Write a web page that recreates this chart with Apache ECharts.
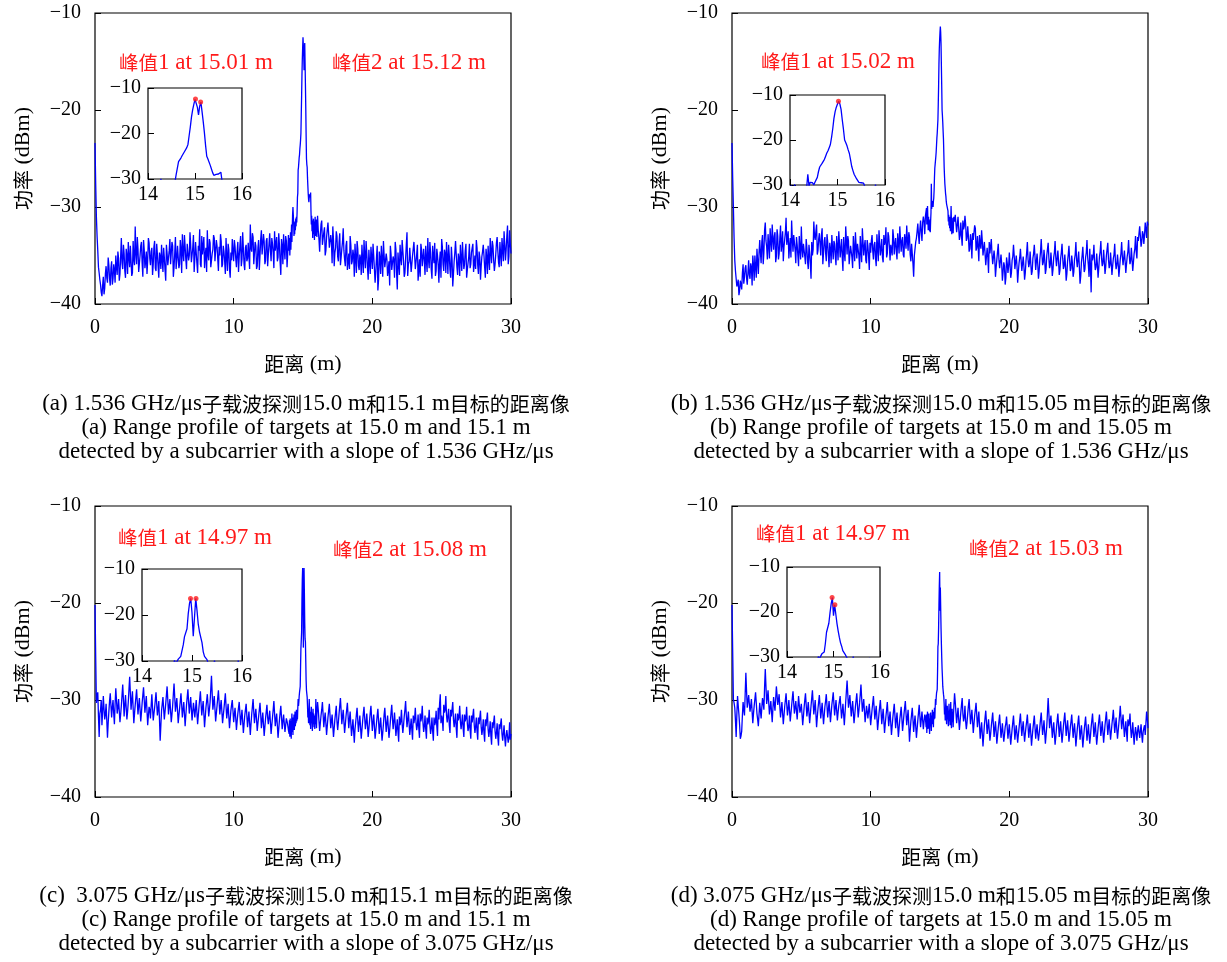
<!DOCTYPE html>
<html>
<head>
<meta charset="utf-8">
<script src="https://cdn.jsdelivr.net/npm/echarts@6/dist/echarts.min.js"></script>
<style>
html,body{margin:0;padding:0;background:#fff}
#chart{width:1227px;height:962px}
</style>
</head>
<body>
<div id="chart"></div>
<script>
// Range profiles (power in dBm vs distance in m).
// *_left : samples at 0.0, 0.1, ... 13.9 m      *_leftMid : samples at 0.05, 0.15, ... 13.95 m
// *_fine : samples every 0.025 m on 14–16 m
// *_rightMid : samples at 16.05 ... 29.95 m     *_right : samples at 16.1, ... 30.0 m

// ---------- (a) 1.536 GHz/μs, targets at 15.0 m and 15.1 m ----------
const a_left = [
 -23.4,-31.0,-34.5,-36.8,-38.0,-39.2,-37.2,-38.4,-36.1,-37.8,
 -36.0,-38.1,-35.6,-37.4,-36.5,-35.0,-37.0,-35.3,-36.9,-33.2,
 -36.4,-34.8,-37.3,-35.0,-33.6,-36.2,-34.1,-36.8,-35.4,-32.0,
 -35.9,-34.3,-36.5,-34.0,-35.8,-33.4,-36.3,-34.6,-35.5,-33.7,
 -36.0,-34.2,-35.9,-33.5,-36.6,-34.9,-37.3,-35.1,-33.9,-36.7,
 -35.2,-37.6,-34.8,-36.1,-33.3,-35.7,-34.0,-36.2,-33.1,-35.4,
 -33.8,-35.9,-34.3,-32.8,-35.6,-34.1,-36.4,-33.6,-35.0,-33.9,
 -35.8,-32.9,-35.3,-33.4,-36.8,-34.5,-35.9,-33.0,-34.7,-36.3,
 -34.2,-32.4,-35.5,-33.7,-36.0,-34.4,-33.2,-35.8,-34.0,-36.6,
 -35.0,-33.5,-35.9,-34.6,-36.9,-35.2,-33.8,-36.4,-34.7,-33.3,
 -35.6,-34.1,-36.2,-33.6,-35.1,-33.0,-35.4,-34.3,-36.5,-33.9,
 -35.3,-33.5,-31.8,-34.6,-33.1,-35.7,-34.0,-36.1,-33.4,-35.0,
 -32.4,-34.8,-33.6,-35.5,-33.2,-34.9,-32.7,-35.6,-33.8,-36.3,
 -34.5,-33.1,-35.2,-33.9,-37.0,-34.0,-32.8,-35.4,-33.5,-34.7
];
const a_leftMid = [
 -27.6,-33.0,-36.2,-37.5,-38.8,-38.1,-39.0,-36.9,-37.3,-35.2,
 -37.4,-36.3,-38.0,-35.9,-37.8,-36.2,-34.6,-37.6,-35.1,-35.8,
 -33.9,-36.6,-34.3,-36.9,-35.2,-34.0,-37.1,-33.5,-36.0,-34.8,
 -33.1,-36.7,-35.0,-33.6,-37.2,-34.4,-35.6,-36.9,-33.2,-35.3,
 -34.6,-37.0,-34.1,-36.3,-33.8,-36.1,-34.7,-36.4,-35.5,-34.2,
 -36.5,-33.9,-36.0,-34.5,-35.9,-33.6,-37.2,-34.8,-36.4,-34.0,
 -36.3,-33.4,-36.8,-34.7,-32.9,-35.4,-33.8,-35.5,-32.6,-35.7,
 -34.2,-36.7,-33.6,-35.8,-34.0,-32.3,-36.2,-34.9,-33.1,-35.0,
 -36.7,-34.9,-33.3,-36.2,-34.8,-32.9,-35.6,-33.4,-35.3,-34.1,
 -32.8,-36.2,-34.0,-35.6,-33.2,-36.6,-34.4,-37.3,-35.5,-34.6,
 -33.4,-35.3,-34.6,-36.7,-34.0,-36.1,-32.6,-35.9,-34.2,-35.6,
 -33.7,-36.4,-34.2,-32.7,-35.9,-33.6,-36.4,-34.2,-36.5,-33.3,
 -34.9,-32.8,-35.9,-33.5,-36.1,-33.8,-34.5,-33.2,-34.7,-32.5,
 -33.8,-35.6,-32.7,-35.7,-33.3,-35.9,-34.3,-33.0,-36.2,-32.9
];
const a_fine = [
 -34.5,-33.2,-35.0,-33.8,-32.6,-34.4,-33.0,-31.8,-33.6,-32.2,
 -30.8,-30.0,-30.1,-31.6,-33.0,-31.9,-32.8,-31.5,-32.4,-31.2,
 -32.0,-31.0,-31.6,-30.5,-29.0,-28.6,-26.2,-25.9,-25.4,-24.9,
 -24.6,-24.0,-23.6,-23.1,-22.4,-20.5,-18.6,-16.4,-14.8,-13.6,
 -12.5,-12.4,-14.2,-15.9,-14.0,-13.1,-15.2,-17.4,-19.8,-22.6,
 -25.0,-25.6,-25.9,-27.0,-27.8,-28.6,-29.2,-29.5,-29.0,-28.7,
 -28.9,-29.0,-28.5,-30.4,-31.8,-30.9,-32.5,-31.4,-33.2,-32.0,
 -31.2,-32.8,-31.5,-33.4,-32.1,-31.0,-33.0,-31.7,-32.6,-31.3,
 -33.1
];
const a_rightMid = [
 -30.9,-33.3,-32.9,-31.4,-34.0,-32.1,-34.5,-33.2,-32.8,-34.1,
 -33.6,-32.0,-36.1,-34.2,-33.0,-35.6,-32.7,-35.2,-33.6,-34.5,
 -36.1,-33.5,-35.7,-36.4,-33.9,-35.6,-35.0,-33.8,-36.8,-34.3,
 -36.5,-35.3,-33.9,-36.8,-35.0,-33.5,-36.2,-34.4,-36.9,-35.2,
 -33.8,-36.4,-36.7,-34.0,-37.5,-35.3,-34.0,-37.2,-35.0,-36.0,
 -35.4,-36.5,-38.1,-34.9,-36.7,-35.5,-33.6,-36.8,-34.7,-37.0,
 -35.2,-33.4,-35.6,-36.8,-33.9,-37.1,-35.6,-34.1,-36.9,-35.1,
 -35.0,-36.2,-33.9,-36.5,-37.2,-34.4,-36.3,-35.6,-34.0,-36.7,
 -35.4,-33.6,-36.5,-34.0,-35.8,-37.1,-34.3,-36.0,-35.5,-37.3,
 -34.1,-36.6,-34.8,-33.6,-36.9,-35.0,-37.3,-35.4,-36.9,-34.7,
 -34.9,-37.0,-35.3,-33.9,-36.6,-35.1,-35.9,-33.8,-36.5,-35.2,
 -36.3,-34.7,-33.8,-35.9,-36.4,-34.2,-36.9,-35.2,-36.1,-34.6,
 -35.0,-37.3,-35.2,-34.0,-36.5,-34.6,-33.5,-35.5,-35.9,-33.7,
 -34.5,-36.2,-34.8,-33.2,-35.6,-33.9,-34.4,-31.9,-35.1,-33.8
];
const a_right = [
 -32.4,-34.6,-31.8,-33.9,-32.6,-35.0,-33.1,-31.6,-34.2,-32.9,
 -35.8,-33.4,-34.7,-32.5,-35.1,-33.7,-36.0,-34.3,-32.2,-35.4,
 -34.0,-36.5,-34.8,-33.0,-35.9,-34.4,-37.2,-35.3,-33.5,-36.1,
 -34.9,-37.0,-35.5,-33.4,-36.3,-34.8,-37.5,-35.7,-34.1,-36.4,
 -35.0,-37.8,-35.2,-38.6,-34.6,-36.9,-35.4,-33.5,-36.2,-34.8,
 -37.1,-35.6,-34.0,-36.5,-35.1,-37.3,-34.4,-38.5,-35.8,-33.9,
 -36.0,-34.5,-37.2,-35.3,-32.6,-35.9,-34.2,-36.7,-35.0,-33.6,
 -36.4,-34.9,-37.6,-35.4,-33.8,-36.1,-34.3,-37.0,-35.5,-33.2,
 -36.3,-34.7,-37.4,-35.1,-33.7,-36.6,-35.0,-37.8,-34.6,-33.3,
 -35.9,-34.4,-36.8,-35.2,-33.9,-36.5,-34.1,-38.2,-35.6,-33.5,
 -36.2,-34.8,-37.1,-35.3,-33.6,-36.4,-34.5,-37.3,-35.8,-33.8,
 -35.9,-34.2,-36.7,-35.0,-33.4,-36.0,-34.6,-37.5,-35.1,-33.9,
 -36.2,-34.3,-36.9,-35.4,-33.2,-35.8,-34.0,-36.6,-34.9,-33.1,
 -35.7,-33.6,-36.1,-34.4,-32.5,-35.5,-33.0,-35.9,-32.4,-34.8
];
const a_peakPos = [15.01, 15.12];
const a_peakVal = [-12.4, -13.1];
const a_caption = [
 '(a) 1.536 GHz/\u03bcs子载波探测15.0 m和15.1 m目标的距离像',
 '(a) Range profile of targets at 15.0 m and 15.1 m',
 'detected by a subcarrier with a slope of 1.536 GHz/\u03bcs'
];

// ---------- (b) 1.536 GHz/μs, targets at 15.0 m and 15.05 m ----------
const b_left = [
 -23.4,-30.0,-35.5,-37.4,-38.0,-39.1,-37.6,-38.5,-35.9,-37.2,
 -36.0,-38.0,-35.5,-37.4,-36.2,-35.0,-37.6,-36.1,-34.3,-36.9,
 -33.4,-35.8,-32.9,-34.7,-31.6,-34.1,-32.8,-35.3,-33.5,-31.8,
 -34.4,-32.6,-35.1,-33.0,-34.8,-31.9,-33.7,-35.6,-34.0,-31.1,
 -33.8,-35.3,-33.2,-31.4,-34.6,-32.7,-35.8,-33.9,-36.1,-34.3,
 -32.0,-35.2,-33.6,-35.9,-34.2,-36.4,-34.7,-37.4,-35.0,-31.5,
 -33.4,-31.8,-34.5,-32.7,-35.0,-32.2,-34.8,-33.1,-35.6,-33.6,
 -36.2,-34.4,-32.9,-35.4,-33.8,-36.0,-34.1,-32.5,-35.2,-33.3,
 -36.6,-34.6,-32.0,-34.9,-33.5,-35.7,-33.9,-36.3,-34.3,-32.6,
 -35.3,-33.7,-36.4,-34.5,-32.2,-35.0,-33.4,-35.8,-34.0,-36.5,
 -34.7,-32.9,-35.4,-33.6,-36.1,-34.2,-32.4,-35.0,-33.3,-35.7,
 -33.9,-32.1,-34.8,-33.0,-35.5,-33.7,-32.3,-34.9,-33.2,-35.4,
 -33.6,-32.0,-34.6,-33.1,-35.2,-33.4,-31.9,-34.5,-33.0,-35.6,
 -34.0,-37.2,-35.1,-33.2,-31.7,-33.8,-31.4,-33.5,-31.0,-32.8
];
const b_leftMid = [
 -27.0,-33.2,-36.6,-38.2,-37.5,-38.6,-38.0,-36.8,-37.9,-36.3,
 -37.3,-36.8,-37.0,-35.8,-38.1,-36.0,-35.0,-37.3,-35.6,-34.8,
 -34.7,-33.6,-35.9,-32.4,-33.5,-35.4,-33.9,-32.2,-34.6,-33.3,
 -33.0,-35.7,-32.3,-35.4,-33.2,-34.6,-32.5,-34.1,-32.6,-33.9,
 -32.5,-34.1,-35.2,-33.3,-32.9,-34.4,-33.1,-35.0,-33.0,-35.4,
 -34.3,-33.8,-35.1,-33.3,-35.6,-33.9,-35.9,-33.6,-34.4,-33.0,
 -32.5,-34.9,-33.3,-33.8,-32.9,-35.9,-33.5,-34.7,-32.8,-35.0,
 -33.7,-35.8,-34.2,-33.5,-35.1,-33.0,-35.5,-33.7,-34.3,-35.2,
 -33.1,-35.6,-33.4,-33.0,-35.9,-34.0,-35.2,-33.0,-35.6,-34.0,
 -33.8,-35.0,-33.0,-35.7,-33.6,-34.0,-35.5,-33.4,-35.1,-33.7,
 -33.5,-34.5,-33.9,-35.3,-32.8,-35.6,-33.7,-34.3,-35.2,-32.9,
 -33.6,-35.2,-32.6,-34.1,-33.9,-35.0,-33.1,-33.8,-34.6,-32.7,
 -34.8,-33.3,-33.5,-34.9,-32.8,-34.3,-33.4,-32.6,-34.9,-33.8,
 -35.8,-35.0,-33.6,-32.5,-32.9,-32.3,-32.6,-31.6,-31.5,-30.9
];
const b_fine = [
 -31.0,-30.1,-31.8,-30.6,-29.9,-31.2,-32.4,-31.0,-32.0,-31.3,
 -32.5,-31.6,-32.6,-31.4,-30.6,-27.6,-30.2,-29.4,-29.8,-29.5,
 -30.0,-29.4,-29.1,-28.3,-27.0,-26.0,-25.6,-25.2,-24.8,-24.3,
 -23.6,-22.9,-22.4,-21.7,-21.0,-19.4,-17.5,-15.2,-13.7,-12.7,
 -12.0,-11.4,-12.0,-13.2,-15.5,-17.6,-20.0,-20.6,-21.3,-22.2,
 -23.0,-24.4,-25.9,-26.8,-27.6,-28.1,-28.6,-28.9,-29.4,-29.7,
 -29.5,-29.9,-29.6,-30.4,-31.5,-30.8,-31.9,-31.2,-32.2,-31.0,
 -32.5,-31.4,-29.9,-31.6,-32.8,-31.5,-32.3,-31.1,-32.7,-31.6,
 -31.0
];
const b_rightMid = [
 -31.5,-31.7,-32.4,-32.2,-32.9,-33.0,-31.4,-32.0,-31.8,-33.2,
 -33.0,-34.3,-33.6,-32.7,-33.5,-32.2,-34.2,-34.1,-32.9,-34.3,
 -33.5,-34.9,-34.8,-35.1,-35.2,-33.6,-35.0,-34.9,-36.0,-35.4,
 -36.2,-34.6,-35.4,-36.3,-35.9,-36.7,-36.1,-37.3,-35.8,-36.1,
 -35.9,-36.8,-35.1,-35.0,-36.4,-36.0,-36.7,-35.2,-35.5,-36.6,
 -36.1,-36.8,-34.7,-35.4,-35.8,-35.9,-36.6,-34.8,-35.1,-36.3,
 -35.9,-36.6,-34.6,-34.9,-35.7,-35.4,-36.4,-34.8,-35.2,-36.0,
 -35.8,-36.4,-34.7,-35.2,-35.9,-35.6,-36.5,-34.7,-35.3,-36.1,
 -36.0,-36.9,-34.9,-35.5,-36.3,-35.8,-36.7,-34.9,-35.4,-36.3,
 -36.2,-37.1,-35.0,-35.6,-36.4,-34.7,-35.2,-37.2,-36.1,-34.9,
 -35.1,-35.7,-36.2,-35.9,-36.3,-34.6,-35.3,-35.8,-35.6,-36.2,
 -34.9,-35.4,-36.0,-35.8,-36.1,-34.9,-35.6,-36.0,-35.8,-36.3,
 -34.8,-35.1,-35.8,-35.6,-35.9,-34.6,-35.0,-35.5,-35.4,-35.7,
 -34.3,-34.6,-33.1,-33.4,-33.0,-33.6,-32.8,-32.9,-32.3,-31.5
];
const b_right = [
 -30.8,-32.6,-31.0,-33.4,-31.6,-34.0,-32.3,-30.9,-33.5,-32.0,
 -34.6,-32.8,-35.3,-33.4,-31.9,-34.5,-33.0,-35.6,-33.8,-32.4,
 -35.0,-33.6,-36.0,-34.2,-36.8,-34.8,-33.3,-35.9,-34.5,-37.2,
 -35.4,-33.8,-36.3,-34.9,-37.6,-35.7,-38.0,-35.2,-36.8,-34.7,
 -37.3,-35.5,-33.9,-36.4,-35.0,-37.8,-35.8,-34.3,-36.6,-35.1,
 -37.5,-35.6,-33.6,-36.2,-34.6,-37.0,-35.3,-33.9,-36.5,-34.8,
 -37.4,-35.4,-33.3,-36.0,-34.4,-36.9,-35.0,-33.7,-36.3,-34.7,
 -37.1,-35.2,-33.5,-36.1,-34.5,-37.0,-35.3,-33.8,-36.4,-34.9,
 -37.6,-35.6,-34.0,-36.6,-35.0,-37.2,-35.4,-33.6,-36.2,-34.6,
 -37.9,-35.7,-34.1,-36.7,-35.2,-33.4,-36.0,-34.3,-38.8,-35.5,
 -33.9,-36.5,-34.8,-37.3,-35.1,-33.5,-36.1,-34.4,-36.9,-35.0,
 -33.7,-36.3,-34.7,-37.0,-35.3,-33.8,-36.4,-34.9,-37.2,-35.4,
 -33.6,-36.0,-34.5,-36.8,-35.1,-33.4,-35.9,-34.2,-36.6,-34.8,
 -33.0,-35.3,-33.5,-32.0,-34.1,-32.5,-33.8,-31.6,-33.2,-31.9
];
const b_peakPos = [15.02];
const b_peakVal = [-11.4];
const b_caption = [
 '(b) 1.536 GHz/\u03bcs子载波探测15.0 m和15.05 m目标的距离像',
 '(b) Range profile of targets at 15.0 m and 15.05 m',
 'detected by a subcarrier with a slope of 1.536 GHz/\u03bcs'
];

// ---------- (c) 3.075 GHz/μs, targets at 15.0 m and 15.1 m ----------
const c_left = [
 -20.2,-30.3,-29.2,-33.8,-31.0,-32.6,-29.6,-32.0,-30.4,-33.9,
 -31.2,-29.3,-31.8,-30.0,-32.5,-28.8,-31.4,-29.9,-32.3,-30.6,
 -28.4,-31.7,-29.5,-32.0,-30.2,-27.6,-31.0,-29.1,-32.4,-30.5,
 -28.9,-31.5,-29.8,-32.2,-30.3,-28.7,-31.3,-29.6,-32.6,-30.7,
 -31.9,-29.4,-32.1,-30.8,-29.2,-31.6,-30.1,-34.2,-31.1,-29.7,
 -32.0,-30.4,-28.6,-31.5,-29.9,-32.3,-30.6,-28.3,-31.2,-29.8,
 -32.4,-30.9,-29.3,-31.8,-30.2,-32.7,-30.5,-28.9,-31.4,-29.7,
 -32.1,-30.3,-31.8,-30.0,-32.5,-30.7,-29.1,-31.6,-30.1,-32.8,
 -30.8,-29.4,-31.7,-30.2,-27.5,-31.0,-29.6,-32.2,-30.6,-29.0,
 -31.5,-30.0,-32.4,-30.9,-29.3,-31.9,-30.4,-32.9,-31.1,-30.0,
 -32.3,-30.8,-33.1,-31.4,-30.2,-32.6,-31.0,-33.4,-31.6,-30.4,
 -32.8,-31.2,-33.6,-31.5,-29.9,-32.4,-30.9,-33.2,-31.7,-30.3,
 -32.9,-31.3,-33.7,-31.9,-30.5,-32.5,-31.1,-33.5,-31.8,-30.1,
 -32.7,-31.4,-33.9,-32.1,-30.6,-33.0,-31.5,-33.3,-31.9,-32.6
];
const c_leftMid = [
 -25.5,-29.6,-31.7,-31.4,-30.0,-31.2,-30.9,-31.5,-32.1,-32.4,
 -30.1,-30.6,-30.7,-31.4,-30.4,-30.0,-30.8,-31.1,-31.5,-29.5,
 -30.0,-30.5,-30.8,-31.2,-28.9,-29.3,-30.0,-30.8,-31.4,-29.7,
 -30.2,-30.6,-31.0,-31.3,-29.5,-30.0,-30.4,-31.1,-31.6,-31.0,
 -30.6,-30.8,-31.4,-30.0,-30.4,-30.9,-32.0,-32.6,-30.4,-30.9,
 -31.2,-29.5,-30.0,-30.7,-31.1,-31.5,-29.4,-29.7,-30.5,-31.0,
 -31.6,-30.1,-30.5,-31.0,-31.4,-31.6,-29.7,-30.2,-30.6,-30.9,
 -31.2,-31.0,-30.9,-31.3,-31.6,-29.9,-30.4,-30.8,-31.4,-31.8,
 -30.1,-30.5,-31.0,-28.9,-29.3,-30.3,-30.9,-31.4,-29.8,-30.2,
 -30.7,-31.2,-31.6,-30.1,-30.6,-31.2,-31.7,-32.0,-30.5,-31.1,
 -31.5,-31.9,-32.2,-30.8,-31.4,-31.8,-32.2,-32.5,-31.0,-31.6,
 -32.0,-32.4,-32.5,-30.7,-31.2,-31.6,-32.0,-32.4,-31.0,-31.5,
 -32.1,-32.5,-32.8,-31.2,-31.8,-31.8,-32.3,-32.6,-31.0,-31.4,
 -32.0,-32.6,-33.0,-31.3,-31.8,-32.2,-32.4,-32.6,-32.2,-33.1
];
const c_fine = [
 -33.5,-32.1,-33.8,-31.9,-33.0,-32.2,-34.0,-32.6,-31.4,-33.3,
 -32.0,-33.6,-31.8,-32.9,-31.5,-33.1,-32.3,-31.2,-32.7,-31.6,
 -32.4,-31.0,-32.2,-31.3,-32.0,-30.8,-29.9,-30.6,-30.2,-29.6,
 -29.2,-29.0,-28.6,-26.5,-24.7,-24.5,-23.0,-19.7,-17.5,-16.4,
 -19.5,-24.6,-20.5,-16.4,-19.0,-22.0,-23.7,-24.0,-26.0,-28.0,
 -29.0,-29.1,-29.7,-30.6,-31.8,-30.9,-32.4,-31.1,-29.9,-31.5,
 -32.6,-31.2,-33.0,-31.9,-30.7,-32.4,-31.3,-33.2,-32.0,-30.9,
 -32.5,-31.4,-32.8,-31.6,-33.0,-31.8,-32.5,-29.9,-31.7,-32.9,
 -31.5
];
const c_rightMid = [
 -30.2,-32.1,-32.4,-31.0,-31.5,-32.0,-32.4,-32.7,-31.1,-31.6,
 -32.2,-32.7,-32.9,-31.3,-32.2,-32.3,-30.6,-31.1,-31.7,-32.2,
 -32.6,-31.0,-31.6,-32.0,-32.5,-32.9,-33.2,-33.0,-31.5,-32.1,
 -32.4,-32.8,-33.1,-31.4,-31.9,-32.3,-32.6,-33.0,-31.3,-31.9,
 -32.3,-32.7,-33.2,-31.6,-32.2,-32.6,-33.0,-33.4,-31.5,-32.1,
 -32.4,-32.8,-33.1,-31.3,-31.9,-32.2,-32.5,-32.9,-33.3,-31.7,
 -32.2,-32.5,-32.6,-31.0,-31.6,-32.0,-32.4,-32.8,-33.1,-31.6,
 -31.9,-32.3,-32.6,-32.9,-31.4,-31.8,-32.3,-32.7,-33.0,-31.8,
 -32.2,-32.6,-32.9,-33.2,-31.8,-32.3,-32.7,-30.8,-30.4,-32.4,
 -32.0,-30.5,-31.0,-31.6,-32.1,-32.6,-31.0,-31.5,-32.0,-32.7,
 -32.9,-31.4,-31.8,-32.2,-32.3,-32.9,-31.5,-31.9,-32.4,-32.8,
 -33.1,-31.6,-32.1,-32.6,-32.7,-33.2,-31.8,-32.3,-32.8,-33.0,
 -33.4,-32.0,-32.5,-33.0,-33.1,-33.7,-32.3,-32.8,-33.2,-33.4,
 -33.8,-32.5,-33.1,-33.5,-33.4,-33.9,-33.7,-33.3,-33.9,-34.1
];
const c_right = [
 -31.0,-33.2,-31.6,-30.2,-32.8,-31.3,-33.6,-31.8,-30.4,-32.9,
 -31.5,-33.8,-32.0,-30.6,-33.1,-31.4,-29.8,-32.5,-31.0,-33.4,
 -31.7,-30.3,-32.9,-31.2,-33.7,-32.0,-34.4,-32.3,-30.8,-33.3,
 -31.6,-34.0,-32.2,-30.7,-33.0,-31.4,-33.8,-32.1,-30.6,-33.2,
 -31.5,-34.0,-32.4,-30.9,-33.5,-31.8,-34.2,-32.5,-30.8,-33.3,
 -31.6,-33.9,-32.2,-30.5,-33.0,-31.3,-33.7,-32.0,-34.3,-32.6,
 -31.0,-33.4,-31.7,-30.1,-32.8,-31.2,-33.6,-31.9,-34.1,-32.4,
 -30.8,-33.1,-31.5,-33.9,-32.2,-30.6,-33.3,-31.6,-34.0,-32.5,
 -31.0,-33.5,-31.8,-34.2,-32.6,-31.1,-33.7,-32.0,-29.4,-31.6,
 -33.2,-31.3,-29.6,-32.3,-30.9,-33.4,-31.7,-30.2,-32.8,-31.4,
 -33.9,-32.1,-30.6,-33.0,-31.5,-33.8,-32.2,-30.7,-33.2,-31.6,
 -34.0,-32.3,-30.9,-33.4,-31.8,-34.1,-32.5,-31.1,-33.6,-32.0,
 -34.3,-32.7,-31.3,-33.8,-32.2,-34.6,-32.9,-31.6,-34.0,-32.4,
 -34.7,-33.0,-31.9,-34.2,-32.6,-34.8,-33.1,-34.4,-32.3,-33.5
];
const c_peakPos = [14.97, 15.08];
const c_peakVal = [-16.4, -16.4];
const c_caption = [
 '(c)  3.075 GHz/\u03bcs子载波探测15.0 m和15.1 m目标的距离像',
 '(c) Range profile of targets at 15.0 m and 15.1 m',
 'detected by a subcarrier with a slope of 3.075 GHz/\u03bcs'
];

// ---------- (d) 3.075 GHz/μs, targets at 15.0 m and 15.05 m ----------
const d_left = [
 -20.2,-29.9,-30.8,-33.8,-29.6,-31.5,-34.0,-33.2,-30.2,-31.6,
 -27.2,-30.8,-29.5,-31.2,-29.9,-32.4,-30.6,-29.2,-31.4,-32.7,
 -30.3,-31.9,-29.8,-31.0,-26.8,-30.4,-29.0,-31.5,-30.1,-32.3,
 -29.7,-31.1,-28.6,-30.5,-29.4,-31.8,-30.2,-32.5,-30.7,-29.3,
 -31.6,-30.0,-32.2,-30.6,-29.1,-31.4,-30.1,-32.0,-29.6,-31.3,
 -30.4,-32.6,-30.8,-29.3,-31.7,-30.2,-32.4,-30.6,-29.0,-31.5,
 -30.0,-32.8,-30.9,-29.5,-31.9,-30.3,-32.5,-30.7,-29.4,-31.8,
 -30.1,-32.3,-30.5,-29.2,-31.6,-30.0,-32.1,-30.6,-29.6,-31.9,
 -30.4,-32.6,-30.2,-28.0,-30.8,-29.5,-31.7,-30.1,-32.4,-30.7,
 -29.3,-31.8,-30.3,-28.4,-31.2,-29.9,-32.3,-30.6,-31.9,-30.4,
 -32.6,-31.0,-29.6,-32.0,-30.6,-33.1,-31.4,-30.0,-32.5,-30.9,
 -33.4,-31.7,-30.2,-32.7,-31.2,-33.6,-31.8,-30.4,-32.9,-31.3,
 -33.8,-32.0,-30.7,-33.2,-31.5,-30.1,-32.6,-31.0,-34.3,-32.2,
 -30.8,-33.3,-31.6,-33.9,-32.1,-30.5,-32.8,-31.2,-33.0,-31.5
];
const d_leftMid = [
 -25.0,-30.3,-32.1,-31.5,-30.6,-32.6,-33.7,-31.6,-31.0,-29.4,
 -29.1,-30.1,-30.4,-30.6,-31.2,-31.4,-29.9,-30.3,-32.0,-31.5,
 -31.1,-30.8,-30.3,-28.7,-28.6,-29.8,-30.3,-30.8,-31.2,-30.9,
 -30.4,-29.9,-29.5,-30.0,-30.7,-31.0,-31.4,-31.6,-30.0,-30.5,
 -30.9,-31.1,-31.4,-29.8,-30.3,-30.8,-31.1,-30.8,-30.5,-30.9,
 -31.5,-31.7,-30.0,-30.5,-31.0,-31.3,-31.5,-29.8,-30.3,-30.8,
 -31.4,-31.8,-30.2,-30.7,-31.1,-31.4,-31.6,-30.1,-30.6,-31.0,
 -31.2,-31.4,-29.9,-30.4,-30.8,-31.1,-31.3,-30.1,-30.8,-31.2,
 -31.5,-31.4,-29.1,-29.4,-30.2,-30.6,-30.9,-31.3,-31.6,-30.0,
 -30.6,-31.1,-29.4,-29.8,-30.6,-31.1,-31.5,-31.2,-31.1,-31.5,
 -31.8,-30.3,-30.8,-31.3,-31.8,-32.3,-30.7,-31.2,-31.7,-32.1,
 -32.5,-31.0,-31.5,-31.9,-32.4,-32.7,-31.1,-31.6,-32.1,-32.6,
 -32.9,-31.4,-31.9,-32.4,-30.8,-31.4,-31.8,-32.6,-33.2,-31.5,
 -32.0,-32.4,-32.7,-33.0,-31.3,-31.7,-32.0,-32.1,-32.2,-31.9
];
const d_fine = [
 -32.8,-31.5,-33.4,-32.0,-31.2,-33.0,-31.8,-32.9,-31.4,-32.6,
 -33.5,-31.9,-32.7,-31.3,-32.4,-33.2,-31.6,-32.5,-31.0,-32.2,
 -31.5,-32.8,-31.2,-32.0,-30.8,-31.9,-30.9,-29.9,-30.5,-29.8,
 -29.3,-29.1,-28.9,-27.0,-24.5,-24.2,-22.5,-20.2,-18.2,-16.8,
 -20.8,-18.4,-20.5,-22.6,-24.2,-25.6,-26.8,-27.6,-28.6,-29.0,
 -29.4,-29.7,-30.4,-31.5,-30.8,-32.1,-31.0,-29.9,-31.4,-32.5,
 -31.3,-30.6,-32.0,-31.1,-32.7,-31.5,-30.4,-32.2,-31.0,-32.6,
 -31.4,-30.2,-31.8,-32.9,-31.6,-30.9,-32.3,-31.2,-32.8,-31.5,
 -30.7
];
const d_rightMid = [
 -29.3,-31.3,-31.6,-32.0,-32.2,-30.5,-31.4,-31.8,-32.2,-32.3,
 -30.6,-31.2,-31.8,-32.2,-32.5,-31.0,-31.5,-32.0,-32.6,-33.1,
 -33.5,-33.7,-31.8,-32.3,-32.8,-33.1,-33.5,-32.0,-32.5,-33.0,
 -33.3,-33.7,-32.2,-32.7,-33.2,-33.5,-33.6,-32.4,-32.9,-33.2,
 -33.6,-33.8,-32.3,-32.8,-33.3,-33.5,-33.6,-32.1,-32.6,-32.9,
 -33.3,-33.5,-32.2,-32.7,-33.1,-33.5,-33.8,-32.3,-32.8,-33.2,
 -33.5,-33.5,-32.0,-32.5,-32.9,-33.3,-33.6,-31.3,-31.3,-32.2,
 -32.7,-33.1,-33.5,-33.8,-32.1,-32.6,-33.0,-33.4,-33.6,-32.0,
 -32.5,-32.9,-33.2,-33.6,-32.2,-32.7,-33.1,-33.5,-33.9,-32.3,
 -32.8,-33.3,-33.7,-34.0,-32.4,-32.9,-33.4,-33.6,-33.7,-32.1,
 -32.6,-33.1,-33.5,-33.8,-32.2,-32.6,-33.0,-33.3,-33.5,-31.9,
 -32.4,-32.8,-33.1,-33.3,-31.8,-32.2,-32.6,-33.0,-33.2,-31.6,
 -31.8,-32.3,-32.7,-33.0,-33.3,-32.0,-32.4,-32.9,-33.3,-33.5,
 -33.5,-33.4,-33.2,-33.3,-33.2,-33.6,-33.3,-32.6,-32.4,-31.9
];
const d_right = [
 -30.2,-32.4,-30.8,-33.1,-31.3,-29.8,-32.2,-30.6,-33.0,-31.4,
 -29.9,-32.5,-31.0,-33.4,-31.6,-30.3,-32.8,-31.2,-34.0,-32.3,
 -34.8,-32.6,-31.1,-33.5,-32.0,-34.2,-32.7,-31.3,-33.8,-32.2,
 -34.5,-32.9,-31.5,-33.9,-32.4,-34.3,-32.8,-31.7,-34.0,-32.5,
 -34.6,-33.0,-31.6,-34.1,-32.6,-34.4,-32.9,-31.4,-33.7,-32.2,
 -34.3,-32.8,-31.5,-33.9,-32.4,-34.7,-33.0,-31.6,-34.0,-32.5,
 -34.2,-32.8,-31.3,-33.6,-32.1,-34.5,-32.7,-29.8,-32.9,-31.6,
 -33.9,-32.3,-34.6,-32.9,-31.4,-33.8,-32.2,-34.4,-32.7,-31.3,
 -33.7,-32.1,-34.3,-32.8,-31.5,-33.9,-32.4,-34.8,-33.0,-31.6,
 -34.1,-32.6,-34.9,-33.1,-31.7,-34.2,-32.5,-34.5,-32.8,-31.4,
 -33.8,-32.3,-34.6,-32.9,-31.5,-33.7,-32.2,-34.4,-32.6,-31.2,
 -33.6,-32.0,-34.1,-32.5,-31.0,-33.4,-31.8,-34.0,-32.4,-30.6,
 -33.0,-31.5,-33.8,-32.2,-34.3,-32.7,-31.4,-33.9,-32.3,-34.6,
 -32.8,-34.2,-32.6,-33.9,-32.5,-34.4,-32.9,-33.6,-31.2,-32.9
];
const d_peakPos = [14.97, 15.03];
const d_peakVal = [-16.8, -18.4];
const d_caption = [
 '(d) 3.075 GHz/\u03bcs子载波探测15.0 m和15.05 m目标的距离像',
 '(d) Range profile of targets at 15.0 m and 15.05 m',
 'detected by a subcarrier with a slope of 3.075 GHz/\u03bcs'
];

// Axis ranges and tick spacing
const mainXTicks = {min: 0, max: 30, interval: 10};
const mainYTicks = {min: -40, max: -10, interval: 10};
const zoomXTicks = {min: 14, max: 16, interval: 1};
const zoomYTicks = {min: -30, max: -10, interval: 10};

// ---------- sample positions ----------
const COARSE = 0.1, HALF = 0.05, FINE = 0.025, FINE_START = 14, RIGHT_START = 16.1;
function fineSeries(fine) {
  return fine.map((v, i) => [+(FINE_START + i * FINE).toFixed(3), v]);
}
function fullSeries(left, leftMid, fine, rightMid, right) {
  const out = [];
  left.forEach((v, i) => {
    out.push([+(i * COARSE).toFixed(2), v]);
    out.push([+(i * COARSE + HALF).toFixed(2), leftMid[i]]);
  });
  fineSeries(fine).forEach(p => out.push(p));
  right.forEach((v, i) => {
    out.push([+(RIGHT_START + i * COARSE - HALF).toFixed(2), rightMid[i]]);
    out.push([+(RIGHT_START + i * COARSE).toFixed(2), v]);
  });
  return out;
}

// ---------- layout ----------
const LATIN = '"Liberation Serif", "Noto Sans CJK SC", serif';
const CJK = '"Noto Sans CJK SC", sans-serif';
const BLUE = '#0000ff', RED = '#ff1a1a';
const panels = [
  {grid: {left: 95, top: 13}, inset: {left: 148, top: 88, width: 94, height: 91},
   left: a_left, leftMid: a_leftMid, fine: a_fine, rightMid: a_rightMid, right: a_right,
   pos: a_peakPos, val: a_peakVal,
   notes: [[119, 63], [332, 63]], caption: a_caption, capX: 306, capY: 404},
  {grid: {left: 732, top: 13}, inset: {left: 790, top: 95, width: 95, height: 90},
   left: b_left, leftMid: b_leftMid, fine: b_fine, rightMid: b_rightMid, right: b_right,
   pos: b_peakPos, val: b_peakVal,
   notes: [[761, 62]], caption: b_caption, capX: 941, capY: 404},
  {grid: {left: 95, top: 506}, inset: {left: 142, top: 569, width: 100, height: 92},
   left: c_left, leftMid: c_leftMid, fine: c_fine, rightMid: c_rightMid, right: c_right,
   pos: c_peakPos, val: c_peakVal,
   notes: [[118, 538], [333, 550]], caption: c_caption, capX: 306, capY: 896},
  {grid: {left: 732, top: 506}, inset: {left: 787, top: 567, width: 93, height: 90},
   left: d_left, leftMid: d_leftMid, fine: d_fine, rightMid: d_rightMid, right: d_right,
   pos: d_peakPos, val: d_peakVal,
   notes: [[756, 534], [969, 549]], caption: d_caption, capX: 941, capY: 896}
];

// Han characters get their own run so they can be sized apart from the Latin text
const richCJK = s => s.replace(/[\u4e00-\u9fff]+/g, m => '{c|' + m + '}');
const minus = v => String(v).replace('-', '\u2212');
const tickLabel = (margin) => ({
  color: '#000', fontFamily: LATIN, fontSize: 20, margin: margin,
  showMinLabel: true, showMaxLabel: true, formatter: minus
});
const tick = {inside: true, length: 6, lineStyle: {color: '#000', width: 1}};
const nameStyle = {color: '#000', fontFamily: LATIN, fontSize: 22,
  rich: {c: {color: '#000', fontFamily: CJK, fontSize: 20}}};

const grids = [], xAxes = [], yAxes = [], series = [], graphics = [];
panels.forEach((p, k) => {
  const gi = 2 * k, ii = 2 * k + 1;
  grids.push({left: p.grid.left, top: p.grid.top, width: 416, height: 291,
    show: true, borderColor: '#000', borderWidth: 1.2, backgroundColor: 'transparent'});
  grids.push({left: p.inset.left, top: p.inset.top, width: p.inset.width, height: p.inset.height,
    show: true, borderColor: '#000', borderWidth: 1.2, backgroundColor: '#fff', z: 3});

  xAxes.push(Object.assign({gridIndex: gi, type: 'value', axisLine: {show: false},
    axisTick: tick, splitLine: {show: false}, axisLabel: tickLabel(14),
    name: richCJK('距离 (m)'), nameLocation: 'middle', nameGap: 49,
    nameTextStyle: nameStyle}, mainXTicks));
  yAxes.push(Object.assign({gridIndex: gi, type: 'value', axisLine: {show: false},
    axisTick: tick, splitLine: {show: false}, axisLabel: tickLabel(14),
    name: richCJK('功率 (dBm)'), nameLocation: 'middle', nameGap: 61,
    nameTextStyle: nameStyle}, mainYTicks));
  xAxes.push(Object.assign({gridIndex: ii, type: 'value', axisLine: {show: false},
    axisTick: tick, splitLine: {show: false}, axisLabel: tickLabel(6), z: 3}, zoomXTicks));
  yAxes.push(Object.assign({gridIndex: ii, type: 'value', axisLine: {show: false},
    axisTick: tick, splitLine: {show: false}, axisLabel: tickLabel(7), z: 3}, zoomYTicks));

  const lineStyle = {color: BLUE, width: 1.3};
  series.push({type: 'line', xAxisIndex: gi, yAxisIndex: gi,
    data: fullSeries(p.left, p.leftMid, p.fine, p.rightMid, p.right),
    showSymbol: false, symbol: 'none',
    lineStyle: lineStyle, clip: true, silent: true, animation: false});
  series.push({type: 'line', xAxisIndex: ii, yAxisIndex: ii, z: 4,
    data: fineSeries(p.fine), showSymbol: false, symbol: 'none',
    lineStyle: lineStyle, clip: true, silent: true, animation: false});
  series.push({type: 'scatter', xAxisIndex: ii, yAxisIndex: ii, z: 5,
    data: p.pos.map((x, j) => [x, p.val[j]]), symbolSize: 5,
    itemStyle: {color: RED}, silent: true, animation: false});

  p.pos.forEach((x, j) => {
    graphics.push({type: 'text', x: p.notes[j][0], y: p.notes[j][1], z: 10,
      style: {text: richCJK('峰值') + (j + 1) + ' at ' + x.toFixed(2) + ' m', fill: RED,
        font: '23px ' + LATIN, textAlign: 'left', textVerticalAlign: 'middle',
        align: 'left', verticalAlign: 'middle',
        rich: {c: {fill: RED, font: '19.5px ' + CJK}}}});
  });
  p.caption.forEach((line, j) => {
    graphics.push({type: 'text', x: p.capX, y: p.capY + 24 * j, z: 10,
      style: {text: richCJK(line), fill: '#000', font: '23px ' + LATIN,
        textAlign: 'center', textVerticalAlign: 'middle',
        align: 'center', verticalAlign: 'middle',
        rich: {c: {fill: '#000', font: '20px ' + CJK}}}});
  });
});

const chart = echarts.init(document.getElementById('chart'), null, {renderer: 'canvas'});
chart.setOption({
  animation: false,
  backgroundColor: '#fff',
  grid: grids,
  xAxis: xAxes,
  yAxis: yAxes,
  series: series,
  graphic: graphics
});
</script>
</body>
</html>
